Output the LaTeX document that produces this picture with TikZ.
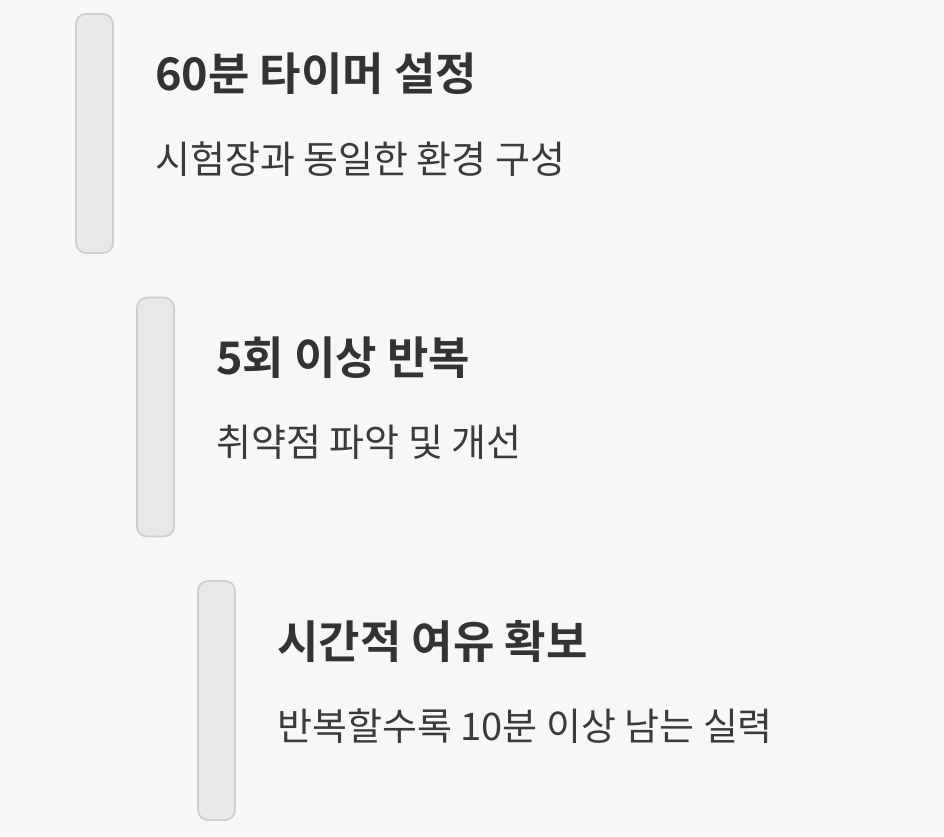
\documentclass[tikz,border=0pt]{standalone}
\usepackage{fontspec}
\setmainfont{Noto Sans CJK KR}
\newfontfamily\krbold{Noto Sans CJK KR Bold}
\definecolor{pagebg}{HTML}{F7F7F7}
\definecolor{barfill}{HTML}{E8E8E8}
\definecolor{barline}{HTML}{CFCFCF}
\definecolor{titlecol}{HTML}{333333}
\definecolor{subcol}{HTML}{3A3A3A}
\usetikzlibrary{positioning}
\tikzset{
  barbox/.style={draw=barline, fill=barfill, line width=1.8pt, rounded corners=10pt,
    minimum width=37pt, minimum height=239pt, inner sep=0pt},
  titletext/.style={anchor=west, inner sep=0pt, text=titlecol, font=\krbold\fontsize{45}{50}\selectfont},
  subtext/.style={anchor=west, inner sep=0pt, text=subcol, font=\fontsize{38}{43}\selectfont}
}
\begin{document}
\begin{tikzpicture}[x=1pt, y=-1pt, line join=round, line cap=round]
	\def\dx{61} \def\dy{283.5} % Abstand der Stufen
	
	\fill[pagebg] (0,0) rectangle (944,836);
	\useasboundingbox (0,0) rectangle (944,836);
	
	\foreach \i/\ttl/\sub in {0/{60분 타이머 설정}/{시험장과 동일한 환경 구성},
	                          1/{5회 이상 반복}/{취약점 파악 및 개선},
	                          2/{시간적 여유 확보}/{반복할수록 10분 이상 남는 실력}}{
		\node[barbox] (bar\i) at (94.5+\i*\dx, 133.5+\i*\dy) {};
		\node[titletext] (title\i) at (155+\i*\dx, 74+\i*\dy) {\ttl};
		\node[subtext] (sub\i) at (155+\i*\dx, 159+\i*\dy) {\sub};
	}
\end{tikzpicture}
\end{document}
